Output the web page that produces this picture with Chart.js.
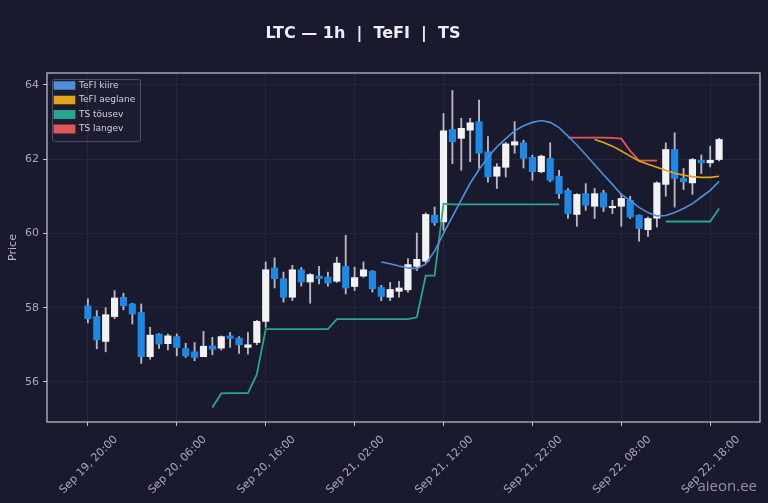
<!DOCTYPE html>
<html>
<head>
<meta charset="utf-8">
<script src="https://cdn.jsdelivr.net/npm/chart.js@4.4.1/dist/chart.umd.min.js"></script>
<style>
  html, body { margin: 0; padding: 0; background: #1a1a2e; }
  canvas { display: block; }
</style>
</head>
<body>
<canvas id="chart" width="768" height="503"></canvas>
<script>
// hourly candles, x = hours since Sep 19 20:00
const opens  = [58.05,57.76,57.09,57.76,58.28,58.10,57.87,56.68,57.29,57.03,57.22,56.90,56.81,56.68,56.97,56.91,57.24,57.18,56.93,57.06,
                57.63,59.07,58.78,58.28,59.02,58.69,58.85,58.82,58.71,59.11,58.57,58.85,58.98,58.55,58.28,58.44,58.48,59.11,59.25,60.49,
                60.31,62.80,62.56,62.78,63.01,62.20,61.54,61.78,62.38,62.44,62.05,61.66,62.02,61.54,61.16,60.51,61.07,60.73,61.09,60.69,
                60.73,60.89,60.49,60.10,60.41,61.32,62.26,61.48,61.36,61.97,61.90,61.99];
const highs  = [58.24,57.92,58.00,58.46,58.39,58.12,58.10,57.47,57.30,57.29,57.29,57.04,57.06,57.36,57.20,57.24,57.33,57.22,57.33,57.66,
                59.23,59.34,58.96,59.14,59.08,58.92,59.11,58.96,59.36,59.95,59.09,59.23,59.00,58.60,58.68,58.71,59.32,60.01,60.55,60.71,
                63.23,63.85,63.10,63.10,63.59,62.61,61.88,62.45,63.01,62.51,62.11,62.11,62.44,61.70,61.21,61.07,61.34,61.21,61.16,60.89,
                61.07,61.00,60.50,60.44,61.39,62.44,62.71,61.75,62.02,62.11,62.35,62.56];
const lows   = [57.59,56.89,56.81,57.70,57.94,57.56,56.50,56.61,56.90,56.86,56.70,56.66,56.57,56.68,56.73,56.86,56.93,56.77,56.75,57.00,
                57.47,58.53,58.15,58.19,58.58,58.12,58.64,58.58,58.68,58.37,58.46,58.82,58.42,58.19,58.19,58.28,58.42,59.00,59.20,60.22,
                60.08,61.88,61.70,61.93,61.75,61.38,61.21,61.52,62.16,61.76,61.43,61.63,61.39,60.94,60.40,60.19,60.62,60.40,60.59,60.53,
                60.19,60.40,59.79,59.92,60.17,61.00,60.71,61.18,61.05,61.61,61.79,61.95];
const closes = [57.70,57.13,57.81,58.26,58.05,57.83,56.68,57.26,57.02,57.24,56.93,56.70,56.66,56.96,56.88,57.22,57.17,57.00,57.00,57.63,
                59.02,58.78,58.28,59.02,58.69,58.89,58.78,58.66,59.20,58.53,58.81,59.02,58.51,58.30,58.49,58.53,59.16,59.30,60.51,60.29,
                62.76,62.47,62.83,62.98,62.16,61.52,61.79,62.41,62.47,62.02,61.66,62.08,61.43,61.07,60.53,61.05,60.76,61.07,60.71,60.71,
                60.94,60.44,60.13,60.40,61.36,62.26,61.48,61.39,61.99,61.90,61.97,62.53];

const _ = null;
const tefiFast = [_,_,_,_,_,_,_,_,_,_,_,_,_,_,_,_,_,_,_,_,
                  _,_,_,_,_,_,_,_,_,_,_,_,_,59.23,59.18,59.12,59.07,59.05,59.18,59.52,
                  60.00,60.45,60.90,61.35,61.72,62.05,62.33,62.55,62.76,62.90,62.99,63.04,62.99,62.85,62.62,62.38,62.12,61.85,61.58,61.32,
                  61.05,60.88,60.70,60.56,60.47,60.48,60.56,60.67,60.80,60.98,61.16,61.40];
const tefiSlow = [_,_,_,_,_,_,_,_,_,_,_,_,_,_,_,_,_,_,_,_,
                  _,_,_,_,_,_,_,_,_,_,_,_,_,_,_,_,_,_,_,_,
                  _,_,_,_,_,_,_,_,_,_,_,_,_,_,_,_,_,62.53,62.45,62.35,
                  62.22,62.08,61.95,61.86,61.78,61.70,61.62,61.57,61.53,61.51,61.51,61.54];
const tsUp   = [_,_,_,_,_,_,_,_,_,_,_,_,_,_,55.31,55.69,55.70,55.70,55.70,56.20,
                57.42,57.42,57.42,57.42,57.42,57.42,57.42,57.42,57.69,57.69,57.69,57.69,57.69,57.69,57.69,57.69,57.69,57.74,58.86,58.86,
                60.80,60.78,60.78,60.78,60.78,60.78,60.78,60.78,60.78,60.78,60.78,60.78,60.78,60.78,_,_,_,_,_,_,
                _,_,_,_,_,60.32,60.32,60.32,60.32,60.32,60.32,60.67];
const tsDown = [_,_,_,_,_,_,_,_,_,_,_,_,_,_,_,_,_,_,_,_,
                _,_,_,_,_,_,_,_,_,_,_,_,_,_,_,_,_,_,_,_,
                _,_,_,_,_,_,_,_,_,_,_,_,_,_,62.58,62.58,62.58,62.58,62.58,62.57,
                62.55,62.22,61.96,61.96,61.96,_,_,_,_,_,_,_];

const tickHours = [0, 10, 20, 30, 40, 50, 60, 70];
const tickLabels = ['Sep 19, 20:00', 'Sep 20, 06:00', 'Sep 20, 16:00', 'Sep 21, 02:00',
                    'Sep 21, 12:00', 'Sep 21, 22:00', 'Sep 22, 08:00', 'Sep 22, 18:00'];
const priceTicks = [56, 58, 60, 62, 64];

const BG = '#1a1a2e';
const UP = '#f2f2f2';
const DOWN = '#1e88e5';
const FONT = "'DejaVu Sans', sans-serif";

const hours = opens.map((v, i) => i);
const candleColors = opens.map((o, i) => closes[i] >= o ? UP : DOWN);
const toPoints = arr => arr.map((y, i) => ({ x: hours[i], y: y }));

function lineSet(label, color, data, width) {
    return {
        type: 'line',
        label: label,
        data: toPoints(data),
        borderColor: color,
        backgroundColor: color,
        borderWidth: width,
        pointRadius: 0,
        tension: 0,
        spanGaps: false
    };
}

const chartBackground = {
    id: 'chartBackground',
    beforeDraw(chart) {
        const ctx = chart.ctx;
        const a = chart.chartArea;
        ctx.save();
        ctx.fillStyle = BG;
        ctx.fillRect(0, 0, chart.width, chart.height);
        // move legend into the top-left corner of the plot and frame it
        const lg = chart.legend;
        if (lg) {
            const w = lg.width, h = lg.height;
            lg.left = a.left + 2;
            lg.top = a.top + 2.5;
            lg.right = lg.left + w;
            lg.bottom = lg.top + h;
            ctx.fillStyle = 'rgba(30,30,50,0.9)';
            ctx.strokeStyle = 'rgba(120,120,140,0.55)';
            ctx.lineWidth = 1;
            ctx.beginPath();
            ctx.roundRect(a.left + 5.5, a.top + 6.5, 88, 62, 2);
            ctx.fill();
            ctx.stroke();
        }
        ctx.restore();
    },
    afterDraw(chart) {
        const ctx = chart.ctx;
        const a = chart.chartArea;
        ctx.save();
        ctx.strokeStyle = '#c4c4d0';
        ctx.lineWidth = 1.2;
        ctx.strokeRect(a.left, a.top, a.right - a.left, a.bottom - a.top);

        ctx.fillStyle = '#ececf2';
        ctx.font = "bold 16px " + FONT;
        ctx.textAlign = 'center';
        ctx.textBaseline = 'middle';
        ctx.fillText('LTC \u2014 1h  |  TeFI  |  TS', 363, 34);

        ctx.fillStyle = 'rgba(175,175,190,0.8)';
        ctx.font = "15px 'Open Sans', sans-serif";
        ctx.textAlign = 'right';
        ctx.fillText('aieon.ee', 757, 487);
        ctx.restore();
    }
};

new Chart(document.getElementById('chart'), {
    type: 'bar',
    data: {
        datasets: [
            lineSet('TeFI kiire', '#4f8fdc', tefiFast, 1.6),
            lineSet('TeFI aeglane', '#e2a418', tefiSlow, 1.6),
            lineSet('TS t\u00f5usev', '#26a58f', tsUp, 1.8),
            lineSet('TS langev', '#e35757', tsDown, 1.8),
            {
                label: 'body',
                data: opens.map((o, i) => ({ x: hours[i], y: [o, closes[i]] })),
                backgroundColor: candleColors,
                barThickness: 6.5,
                minBarLength: 1.5,
                grouped: false
            },
            {
                label: 'wick',
                data: opens.map((o, i) => ({ x: hours[i], y: [lows[i], highs[i]] })),
                backgroundColor: '#b8b8c4',
                barThickness: 1.2,
                grouped: false
            }
        ]
    },
    options: {
        responsive: false,
        animation: false,
        layout: { padding: { top: 73, right: 8, left: 0, bottom: 0 } },
        plugins: {
            title: { display: false },
            tooltip: { enabled: false },
            legend: {
                position: 'chartArea',
                align: 'start',
                labels: {
                    filter: item => item.text !== 'body' && item.text !== 'wick',
                    boxWidth: 20,
                    boxHeight: 7,
                    padding: 5.5,
                    color: '#d0d0da',
                    font: { family: FONT, size: 9 }
                }
            }
        },
        scales: {
            x: {
                type: 'linear',
                min: -4.6,
                max: 75.6,
                offset: false,
                afterFit: s => { s.height = 81; },
                afterBuildTicks: s => { s.ticks = tickHours.map(v => ({ value: v })); },
                grid: {
                    offset: false,
                    color: 'rgba(255,255,255,0.06)',
                    tickColor: '#c4c4d0',
                    tickLength: 4
                },
                border: { display: false },
                ticks: {
                    autoSkip: false,
                    minRotation: 45,
                    maxRotation: 45,
                    labelOffset: 28,
                    padding: 7,
                    color: '#a8a8b8',
                    font: { family: FONT, size: 11 },
                    callback: v => tickLabels[tickHours.indexOf(v)]
                }
            },
            y: {
                min: 54.92,
                max: 64.32,
                afterFit: s => { s.width = 47; },
                afterBuildTicks: s => { s.ticks = priceTicks.map(v => ({ value: v })); },
                grid: {
                    color: 'rgba(255,255,255,0.06)',
                    tickColor: '#c4c4d0',
                    tickLength: 4
                },
                border: { display: false },
                ticks: {
                    padding: 4,
                    color: '#a8a8b8',
                    font: { family: FONT, size: 11 }
                },
                title: {
                    display: true,
                    text: 'Price',
                    color: '#b8b8c6',
                    padding: { top: 7, bottom: 0 },
                    font: { family: FONT, size: 11 }
                }
            }
        }
    },
    plugins: [chartBackground]
});
</script>
</body>
</html>
